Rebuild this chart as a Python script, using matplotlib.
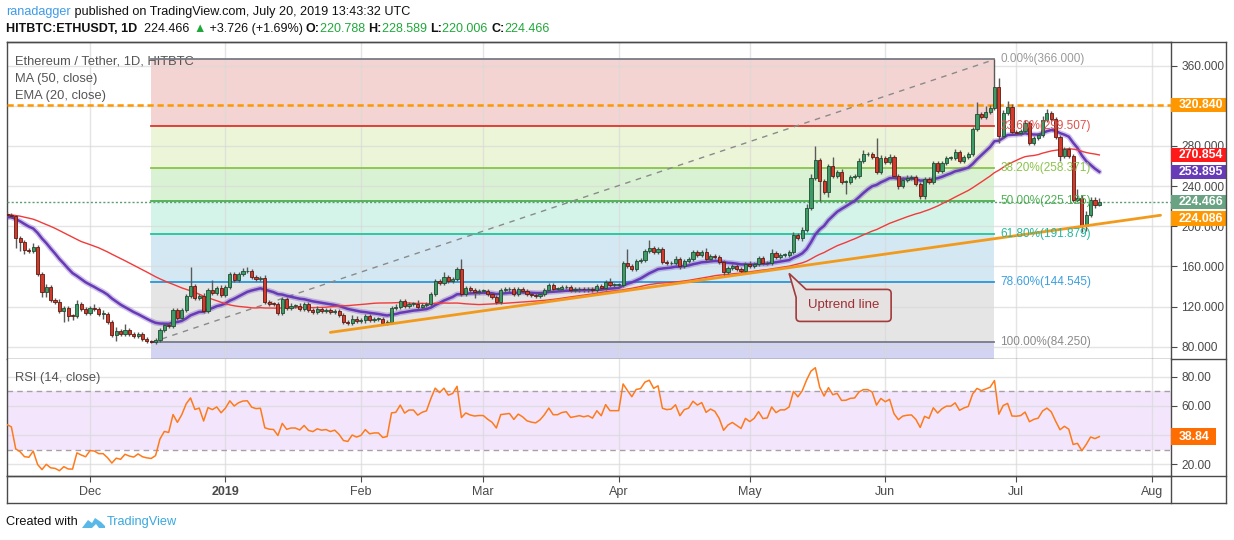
import matplotlib
matplotlib.use("Agg")
import matplotlib.pyplot as plt
import matplotlib.transforms as mtransforms
from matplotlib.patches import Rectangle, Polygon, PathPatch
from matplotlib.path import Path
from matplotlib.lines import Line2D
import numpy as np
import pandas as pd

plt.rcParams["font.family"] = ["Liberation Sans", "DejaVu Sans"]

W, H = 1234, 540

# closes before the first visible day (Sep 23 - Nov 11 2018), only used to warm up MA / EMA / RSI
pre_close = [244, 229, 219, 215, 229, 222, 232, 233, 230, 227,
             220, 222, 227, 224, 225, 229, 226, 225, 189, 196,
             197, 195, 211, 209, 206, 203, 203, 204, 205, 204,
             202, 202, 202, 202, 203, 202, 196, 197, 198, 200,
             204, 203, 213, 210, 219, 217, 211, 209, 211, 212]

start_date = "2018-11-12"
close = [211.5, 210, 188.5, 184.5, 176.5, 175.5, 179, 152, 135, 139,
         127, 125, 116, 119, 111, 110.5, 123, 118, 114, 119,
         118, 113, 113, 105, 92, 95.5, 93, 96.5, 93, 91,
         93, 88, 86, 85, 86.5, 96.5, 102, 101, 116.5, 109,
         117, 131, 140.5, 129, 131, 116, 136.5, 134, 138.5, 131.5,
         139, 152, 146, 152, 155, 155.5, 149, 147.5, 148, 125,
         123, 122.5, 114, 127.5, 119, 120.5, 120.5, 118, 122.5, 116.5,
         115, 117.5, 116, 116.5, 114.5, 115.5, 111.5, 105, 104, 108,
         106, 107, 110.5, 107, 107.5, 107.5, 104, 104.5, 119, 119.5,
         125.5, 120.5, 123, 123, 120, 122, 123, 133, 145.5, 143,
         149, 145, 147, 157, 132.5, 138, 136, 135, 135.5, 135.5,
         132.5, 130, 125, 136.5, 137, 137.5, 133, 137.5, 135.5, 132.5,
         131.5, 131, 133, 136.5, 141.5, 137.5, 137.5, 139, 139.5, 136.5,
         137, 137.5, 137, 137.5, 136.5, 140, 138, 144, 141.5, 141.5,
         141.5, 163, 160, 157, 165, 166, 175, 178, 174, 177.5,
         164, 163, 163.5, 167.5, 160, 165.5, 167, 174, 171.5, 174,
         167.5, 170.5, 169, 164, 154, 158, 160, 157.5, 155, 162.5,
         160, 162.5, 168, 163, 163.5, 173, 169, 171.5, 171.5, 174,
         191.5, 188, 196.5, 218, 248, 265.5, 245, 234, 260, 250,
         254, 244, 244.5, 249, 250, 265, 271.5, 271.5, 269, 254,
         268, 264, 269, 250, 240.5, 246.5, 248, 248.5, 242.5, 230.5,
         247, 244, 262.5, 255, 263, 268, 268, 274, 265, 269,
         271.5, 296.5, 311.5, 309, 313.5, 318, 339, 290, 313, 319,
         293.5, 293, 294.5, 302.5, 283, 288, 290.5, 306, 313, 306.5,
         289, 270, 276.5, 270, 226, 228, 200, 211.5, 225.8, 220.788,
         224.466]

wick_up = [2, 2, 1, 2, 2, 2, 4, 2, 2, 3,
           2, 2, 3, 2, 2, 2, 4, 2, 2, 2,
           4, 2, 4, 2, 2, 4, 2, 6, 2, 2,
           2, 2, 2, 1, 2, 2, 2, 2, 2, 2,
           2, 2, 19, 2, 2, 3, 2, 10, 2, 3,
           2, 2, 2, 2, 3, 4, 2, 2, 2, 3,
           2, 2, 2, 2, 2, 3, 2, 3, 2, 2,
           2, 3, 2, 2, 2, 2, 2, 2, 2, 4,
           3, 2, 2, 2, 2, 2, 2, 2, 2, 3,
           2, 2, 2, 2, 4, 2, 2, 2, 2, 2,
           5, 2, 2, 2, 10, 2, 2, 2, 2, 2,
           2, 2, 2, 2, 2, 2, 2, 2, 2, 2,
           2, 2, 2, 2, 2, 2, 2, 2, 2, 2,
           2, 2, 2, 2, 2, 2, 2, 2, 4, 2,
           2, 2, 14, 2, 2, 2, 2, 8, 2, 2,
           2, 2, 2, 3, 2, 2, 2, 2, 2, 2,
           4, 2, 2, 2, 2, 2, 2, 2, 2, 2,
           3, 2, 2, 2, 2, 4, 2, 2, 2, 2,
           3, 2, 3, 4, 4, 14, 2, 2, 2, 9,
           2, 3, 2, 2, 2, 3, 4, 2, 2, 19,
           3, 2, 3, 2, 2, 2, 3, 2, 2, 2,
           2, 2, 2, 2, 2, 2, 2, 3, 2, 2,
           2, 2, 12, 2, 6, 3, 27, 9, 3, 6,
           3, 2, 2, 3, 2, 2, 2, 4, 4, 2,
           2, 2, 2, 2, 2, 9, 3, 4, 3, 3,
           4.1]

wick_dn = [2, 2, 10, 9, 4, 2, 2, 2, 5, 5,
           2, 2, 2, 11, 5, 4, 2, 2, 2, 2,
           2, 2, 5, 2, 2, 6, 2, 2, 2, 2,
           2, 2, 2, 1, 2, 2, 2, 2, 2, 2,
           2, 2, 2, 2, 2, 2, 2, 2, 2, 2,
           2, 2, 2, 2, 2, 2, 2, 2, 2, 2,
           2, 2, 2, 2, 2, 2, 2, 2, 2, 2,
           2, 2, 2, 2, 2, 2, 2, 2, 2, 2,
           2, 2, 3, 2, 2, 2, 2, 2, 2, 2,
           2, 2, 2, 2, 2, 2, 2, 2, 2, 2,
           2, 2, 2, 2, 2, 2, 2, 6, 2, 2,
           2, 2, 2, 2, 2, 2, 2, 2, 2, 2,
           2, 2, 2, 2, 2, 2, 2, 2, 2, 2,
           2, 2, 2, 2, 2, 2, 2, 2, 2, 2,
           2, 2, 2, 2, 2, 2, 2, 2, 2, 2,
           2, 2, 2, 2, 3, 2, 2, 2, 2, 2,
           2, 2, 2, 2, 4, 2, 2, 2, 2, 2,
           2, 2, 2, 2, 2, 2, 2, 2, 2, 2,
           2, 2, 3, 2, 2, 2, 20, 2, 5, 2,
           2, 2, 12, 2, 2, 2, 2, 2, 2, 2,
           2, 2, 2, 2, 3, 2, 2, 2, 2, 3,
           3, 2, 2, 2, 2, 2, 2, 2, 2, 2,
           2, 2, 2, 2, 2, 2, 2, 7, 2, 2,
           2, 2, 2, 2, 2, 2, 2, 2, 2, 2,
           2, 5, 2, 2, 2, 2, 6, 5, 2, 3,
           0.8]

# fibonacci retracement drawn from the Dec 15 low to the Jun 26 high
fib_levels = [0.0, 0.236, 0.382, 0.5, 0.618, 0.786, 1.0]
fib_prices = [366.0, 299.507, 258.371, 225.125, 191.879, 144.545, 84.25]
fib_start, fib_end = "2018-12-15", "2019-06-26"

# manual drawings
resistance = 320.84
trend_dates = ["2019-01-25", "2019-08-03"]
trend_vals = [94.3, 210.9]
callout_tip = ("2019-05-10", 153.0)

months = ["2018-12-01", "2019-01-01", "2019-02-01", "2019-03-01", "2019-04-01",
          "2019-05-01", "2019-06-01", "2019-07-01", "2019-08-01"]
month_labels = ["Dec", "2019", "Feb", "Mar", "Apr", "May", "Jun", "Jul", "Aug"]
# 320 and 40 sit under the value boxes, so TradingView does not print them
price_ticks = [80, 120, 160, 200, 240, 280, 320, 360]
price_labels = ["80.000", "120.000", "160.000", "200.000", "240.000", "280.000", "", "360.000"]
rsi_ticks = [20, 40, 60, 80]
rsi_labels = ["20.00", "", "60.00", "80.00"]

# ---------------------------------------------------------------------------
t0 = pd.Timestamp(start_date)


def day(d):
    return (pd.Timestamp(d) - t0).days


n = len(close)
x = np.arange(n)
c = np.array(close, dtype=float)
o = np.concatenate([[pre_close[-1]], c[:-1]])
hi = np.maximum(o, c) + np.array(wick_up)
lo = np.minimum(o, c) - np.array(wick_dn)

full = pd.Series(pre_close + close, dtype=float)
ma50 = full.rolling(50).mean().values[-n:]
ema20 = full.ewm(span=20, adjust=False).mean().values[-n:]
delta = full.diff()
gain = delta.clip(lower=0).ewm(alpha=1 / 14, adjust=False).mean()
loss = (-delta.clip(upper=0)).ewm(alpha=1 / 14, adjust=False).mean()
rsi = (100 - 100 / (1 + gain / loss)).values[-n:]

fig = plt.figure(figsize=(W / 100, H / 100), dpi=100)
fig.patch.set_facecolor("white")

L, R = 6.7, 1171
ax = fig.add_axes([L / W, 1 - 359.3 / H, (R - L) / W, (359.3 - 41.7) / H])
rax = fig.add_axes([L / W, 1 - 476 / H, (R - L) / W, (476 - 359.3) / H], sharex=ax)

xmin, xmax = -0.07, 266.4
ax.set_xlim(xmin, xmax)
ax.set_ylim(67.5, 383.7)
rax.set_ylim(11.8, 92)

month_x = [day(m) for m in months]
grid_c = "#d9d9d9"
for a in (ax, rax):
    for mx in month_x:
        a.axvline(mx, color=grid_c, lw=1, alpha=0.7, zorder=1.5)
for p in price_ticks:
    ax.axhline(p, color=grid_c, lw=1, alpha=0.7, zorder=1.5)
for p in rsi_ticks:
    rax.axhline(p, color=grid_c, lw=1, alpha=0.7, zorder=1.5)

# fib zones
fx0, fx1 = day(fib_start), day(fib_end)
zone_cols = ["#f3d4d2", "#ecf5d7", "#d9f2d3", "#d5f4e9", "#d4e8f4", "#e5e5e5"]
line_cols = ["#787b86", "#e0342c", "#8bc34a", "#4caf50", "#22c49a", "#2a96d8", "#787b86"]
text_cols = ["#9a9a9a", "#e0504a", "#8bc34a", "#4caf50", "#26b89a", "#3aa0e0", "#8a8a8a"]
for k in range(6):
    ax.fill_between([fx0, fx1], fib_prices[k + 1], fib_prices[k], color=zone_cols[k],
                    lw=0, zorder=1)
ax.fill_between([fx0, fx1], 60, fib_prices[-1], color="#d3d3f2", lw=0, zorder=1)
for k, p in enumerate(fib_prices):
    ax.plot([fx0, fx1], [p, p], color=line_cols[k], lw=1.3, zorder=2)
    ax.text(fx1 + 1.3, p, "%.2f%%(%.3f)" % (fib_levels[k] * 100, p), color=text_cols[k],
            fontsize=8.5, va="center", ha="left", zorder=7)
ax.plot([fx0, fx1], [fib_prices[-1], fib_prices[0]], color="#8a8a8a", lw=1,
        ls=(0, (4, 4)), zorder=2)

# horizontal lines
ax.axhline(resistance, color="#ff9800", lw=1.8, ls=(0, (2.5, 1.5)), zorder=3)
ax.axhline(close[-1], color="#5e9e77", lw=1, ls=(0, (1.5, 1.5)), zorder=3)

# moving averages
ax.plot(x, ema20, color="#673ab7", lw=4, alpha=0.3, zorder=4, solid_capstyle="round")
ax.plot(x, ema20, color="#673ab7", lw=1.8, zorder=4)
ax.plot(x, ma50, color="#f23a3a", lw=1, zorder=4)

# candles
up = c >= o
ax.vlines(x, lo, hi, color="#5a5a5a", lw=1, zorder=5)
body_b = np.minimum(o, c)
body_h = np.maximum(np.abs(c - o), 0.8)
ax.bar(x[up], body_h[up], bottom=body_b[up], width=0.72, color="#3e9b65",
       edgecolor="#1f4d33", lw=0.6, zorder=6)
ax.bar(x[~up], body_h[~up], bottom=body_b[~up], width=0.72, color="#d23b2c",
       edgecolor="#5e1a12", lw=0.6, zorder=6)

# uptrend line
ax.plot([day(d) for d in trend_dates], trend_vals, color="#f29a1c", lw=2, zorder=6,
        solid_capstyle="round")

# callout "Uptrend line" (shape in pixel offsets from its tip)
tip_x, tip_y = day(callout_tip[0]), callout_tip[1]
off = mtransforms.ScaledTranslation(tip_x, tip_y, ax.transData)
r = 4
verts = [(0, 0), (17, -16), (102 - r, -16), (102, -16), (102, -16 - r), (102, -48 + r),
         (102, -48), (102 - r, -48), (7 + r, -48), (7, -48), (7, -48 + r), (7, -24), (0, 0)]
codes = [Path.MOVETO, Path.LINETO, Path.LINETO, Path.CURVE3, Path.CURVE3, Path.LINETO,
         Path.CURVE3, Path.CURVE3, Path.LINETO, Path.CURVE3, Path.CURVE3, Path.LINETO,
         Path.CLOSEPOLY]
ax.add_patch(PathPatch(Path(verts, codes), transform=mtransforms.Affine2D() + off,
                       facecolor="#e6e2e2", edgecolor="#a33b3b", lw=1.2, zorder=8,
                       clip_on=False))
ax.text(0, 0, "Uptrend line", transform=mtransforms.Affine2D().translate(54.5, -32) + off,
        color="#9e3034", fontsize=9.5, ha="center", va="center", zorder=9)

# legend texts
ax.text(8 / (R - L), 1 - 20 / 317.6, "Ethereum / Tether, 1D, HITBTC", transform=ax.transAxes,
        color="#555555", fontsize=9.3, va="center", zorder=1.8)
ax.text(8 / (R - L), 1 - 37 / 317.6, "MA (50, close)", transform=ax.transAxes,
        color="#555555", fontsize=9.3, va="center")
ax.text(8 / (R - L), 1 - 54 / 317.6, "EMA (20, close)", transform=ax.transAxes,
        color="#555555", fontsize=9.3, va="center")

# RSI panel
rax.axhspan(30, 70, color="#f3e6fc", lw=0, zorder=1)
for lv in (30, 70):
    rax.axhline(lv, color="#a8a0a8", lw=1, ls=(0, (4, 3)), zorder=2)
rax.plot(x, rsi, color="#ff7a1a", lw=1.1, zorder=4)
rax.text(8 / (R - L), 1 - 19 / 116.7, "RSI (14, close)", transform=rax.transAxes,
         color="#555555", fontsize=9.3, va="center")

# axes styling
axis_c = "#4a4a4a"
for a in (ax, rax):
    for s in a.spines.values():
        s.set_color(axis_c)
        s.set_linewidth(1)
    a.yaxis.tick_right()
    a.tick_params(axis="y", length=4, color=axis_c, labelcolor="#4a4a4a", labelsize=8.6,
                  pad=3.5)
    a.set_facecolor("white")
rax.spines["top"].set_visible(False)
ax.set_yticks(price_ticks)
ax.set_yticklabels(price_labels)
rax.set_yticks(rsi_ticks)
rax.set_yticklabels(rsi_labels)
ax.tick_params(axis="x", bottom=False, labelbottom=False)
rax.set_xticks(month_x)
rax.set_xticklabels(month_labels)
rax.tick_params(axis="x", length=4, color=axis_c, labelcolor="#4a4a4a", labelsize=9, pad=3.5)
for lab in rax.get_xticklabels():
    if lab.get_text() == "2019":
        lab.set_fontweight("bold")

# value boxes on the price scale
bw = 56 / (R - L)
box_tr = mtransforms.blended_transform_factory(ax.transAxes, ax.transData)


def value_box(a, tr, yc, half, txt, col):
    a.add_patch(Rectangle((1.0, yc - half), bw, 2 * half, transform=tr, facecolor=col,
                          edgecolor="none", clip_on=False, zorder=10))
    a.text(1.0 + 8 / (R - L), yc, txt, transform=tr, color="white", fontsize=8.8,
           fontweight="bold", va="center", ha="left", clip_on=False, zorder=11)


value_box(ax, box_tr, resistance, 7, "320.840", "#ff9800")
value_box(ax, box_tr, 270.854, 7, "270.854", "#ff1a1a")
value_box(ax, box_tr, 253.895, 7, "253.895", "#673ab7")
value_box(ax, box_tr, close[-1], 7, "%.3f" % close[-1], "#6aa383")
value_box(ax, box_tr, 207.5, 7.5, "224.086", "#ff9800")
rbox_tr = mtransforms.blended_transform_factory(rax.transAxes, rax.transData)
rax.add_patch(Rectangle((1.0, rsi[-1] - 5.7), 45 / (R - L), 11.4, transform=rbox_tr,
                        facecolor="#ff6d00", edgecolor="none", clip_on=False, zorder=10))
rax.text(1.0 + 8 / (R - L), rsi[-1], "38.84", transform=rbox_tr, color="white",
         fontsize=8.8, fontweight="bold", va="center", ha="left", clip_on=False, zorder=11)

# outer frame
for (x0, y0, x1, y1) in [(L, 41.7, 1226, 41.7), (1226, 41.7, 1226, 502.7),
                         (L, 502.7, 1226, 502.7), (L, 476, L, 502.7),
                         (R, 476, R, 502.7), (L, 476, 1226, 476), (R, 359.3, 1226, 359.3)]:
    fig.add_artist(Line2D([x0 / W, x1 / W], [1 - y0 / H, 1 - y1 / H], color=axis_c, lw=1))

# header
rend = fig.canvas.get_renderer()


def parts_text(x_px, y_px, parts, size):
    xp = x_px
    for s, col, wt in parts:
        t = fig.text(xp / W, 1 - y_px / H, s, color=col, fontweight=wt, fontsize=size,
                     va="center", ha="left")
        xp += t.get_window_extent(renderer=rend).width


green = "#1fa83a"
parts_text(6, 12, [("ranadagger", "#3d9be9", "normal"),
                   (" published on TradingView.com, July 20, 2019 13:43:32 UTC", "#111111",
                    "normal")], 9.1)
parts_text(6, 29, [("HITBTC:ETHUSDT, 1D", "#111111", "bold"),
                   ("  224.466 ", "#111111", "normal"), ("▲", green, "normal"),
                   (" +3.726 (+1.69%) ", "#111111", "normal"),
                   ("O:", "#111111", "bold"), ("220.788 ", green, "normal"),
                   ("H:", "#111111", "bold"), ("228.589 ", green, "normal"),
                   ("L:", "#111111", "bold"), ("220.006 ", green, "normal"),
                   ("C:", "#111111", "bold"), ("224.466", green, "normal")], 9)

# footer
parts_text(6, 522, [("Created with ", "#111111", "normal")], 9.2)
logo = [(82, 528), (88, 520), (92, 523), (95, 518), (101, 522), (105, 526), (105, 528),
        (99, 528), (96, 524), (92, 528)]
fig.add_artist(Polygon([(px / W, 1 - py / H) for px, py in logo], closed=True,
                       facecolor="#5ab8e8", edgecolor="none"))
parts_text(107, 522, [("TradingView", "#38a8e0", "normal")], 9.2)

fig.savefig("out.png", dpi=100)
